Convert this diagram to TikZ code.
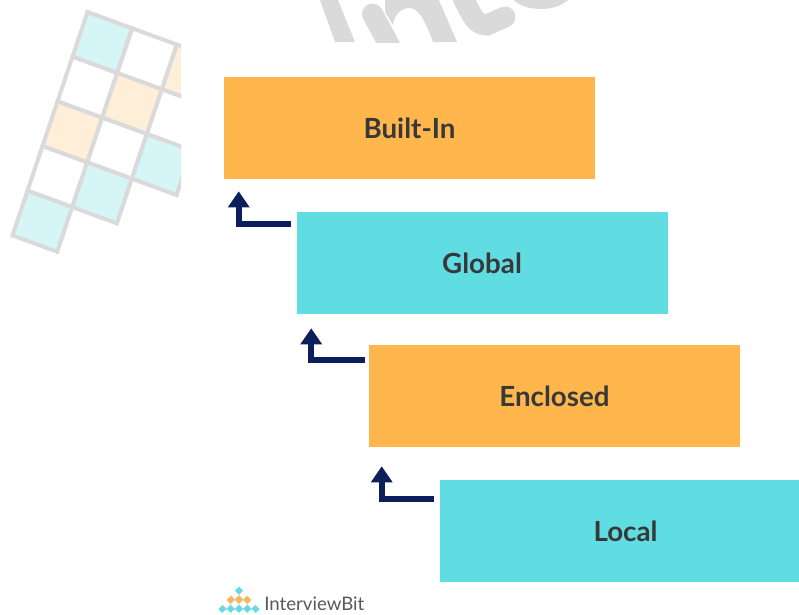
\documentclass[tikz,border=0pt]{standalone}
\usepackage{fontspec}
\setmainfont{Lato}
\usepackage{tikz}
\usetikzlibrary{arrows.meta}
\definecolor{boxorange}{HTML}{FFB74D}
\definecolor{boxblue}{HTML}{5FDDE3}
\definecolor{arrowblue}{HTML}{0A1F5C}
\definecolor{gridgrey}{HTML}{DADADA}
\definecolor{cellblue}{HTML}{D5F5F7}
\definecolor{cellorange}{HTML}{FFEFD9}
\definecolor{logogrey}{HTML}{D3D7DA}
\tikzset{
  levelbox/.style={minimum width=278.25pt,minimum height=76.5pt,inner sep=0pt,text=black!78,font=\fontsize{20.8pt}{23pt}\selectfont\bfseries},
  backarrow/.style={draw=arrowblue,line width=4.5pt,-{Triangle[length=12pt,width=15.5pt]}},
  gridcell/.style={draw=gridgrey,line width=3pt},
}
\newcommand{\logodiamond}[3]{\fill [#1] (#2-3.8,#3) -- (#2,#3-3.8) -- (#2+3.8,#3) -- (#2,#3+3.8) -- cycle;}
\begin{document}
\begin{tikzpicture}[x=0.75pt,y=-0.75pt]
\useasboundingbox (0,0) rectangle (799,614);
% cut off strokes at the top
\begin{scope}
\clip (290,0) rectangle (799,42);
\fill [gridgrey] (320,0) -- (335,42) -- (355,42) -- (338,0) -- cycle;
\draw [gridgrey,line width=15.75pt,line cap=round] (372.5,14) -- (392,50);
\fill [gridgrey] (385,-2) -- (438,-2) -- (457,42) -- (433,42) .. controls (425,20) and (418,8) .. (410,8) .. controls (400,8) and (394,16) .. (393,25) -- (385,12) -- cycle;
\draw [gridgrey,line width=15.75pt,line cap=round] (463,-2) .. controls (472,16) and (476,25) .. (487,25) -- (505,17);
\fill [gridgrey] (512,-2) .. controls (518,6) and (530,9) .. (541,9) .. controls (553,9) and (564,5) .. (570,-2) -- cycle;
\end{scope}
% corner grid
\begin{scope}
\clip (0,0) rectangle (181,260);
\begin{scope}[cm={.931,-.34,.3125,.931,(87.5,12)}]
\draw [gridcell,fill=cellblue] (0,0) rectangle (48,48);
\draw [gridcell,fill=white] (48,0) rectangle (96,48);
\draw [gridcell,fill=cellorange] (96,0) rectangle (144,48);
\draw [gridcell,fill=white] (0,48) rectangle (48,96);
\draw [gridcell,fill=cellorange] (48,48) rectangle (96,96);
\draw [gridcell,fill=white] (96,48) rectangle (144,96);
\draw [gridcell,fill=cellorange] (0,96) rectangle (48,144);
\draw [gridcell,fill=white] (48,96) rectangle (96,144);
\draw [gridcell,fill=cellblue] (96,96) rectangle (144,144);
\draw [gridcell,fill=white] (0,144) rectangle (48,192);
\draw [gridcell,fill=cellblue] (48,144) rectangle (96,192);
\draw [gridcell,fill=cellblue] (0,192) rectangle (48,240);
\end{scope}
\end{scope}
% the four levels
\node (builtin) [levelbox,fill=boxorange] at (409.5,128) {Built-In};
\node (global) [levelbox,fill=boxblue] at (482,263) {Global};
\node (enclosed) [levelbox,fill=boxorange] at (554.5,396) {Enclosed};
\node (local) [levelbox,fill=boxblue] at (625.5,531) {Local};
\draw [backarrow] ([shift={(-5,12)}]global.north west) -| ([shift={(15,12)}]builtin.south west);
\draw [backarrow] ([shift={(-4,15)}]enclosed.north west) -| ([shift={(15,14)}]global.south west);
\draw [backarrow] ([shift={(-6,19)}]local.north west) -| ([shift={(13,19)}]enclosed.south west);
% logo
\fill [logogrey] (218,610) -- (239,587) -- (260,610) -- cycle;
\logodiamond{boxblue}{239}{590.5}
\logodiamond{white}{234.8}{595}
\logodiamond{white}{243.2}{595}
\logodiamond{boxorange}{230.7}{599.7}
\logodiamond{boxorange}{239}{599.7}
\logodiamond{boxorange}{247.3}{599.7}
\logodiamond{white}{226.5}{604.3}
\logodiamond{white}{234.8}{604.3}
\logodiamond{white}{243.2}{604.3}
\logodiamond{white}{251.5}{604.3}
\logodiamond{boxblue}{222.3}{609}
\logodiamond{boxblue}{230.7}{609}
\logodiamond{boxblue}{239}{609}
\logodiamond{boxblue}{247.3}{609}
\logodiamond{boxblue}{255.7}{609}
\node (brand) [anchor=west,inner sep=0pt,text=black!65,font=\fontsize{14pt}{16pt}\selectfont] at (264,603.5) {InterviewBit};
\end{tikzpicture}
\end{document}
